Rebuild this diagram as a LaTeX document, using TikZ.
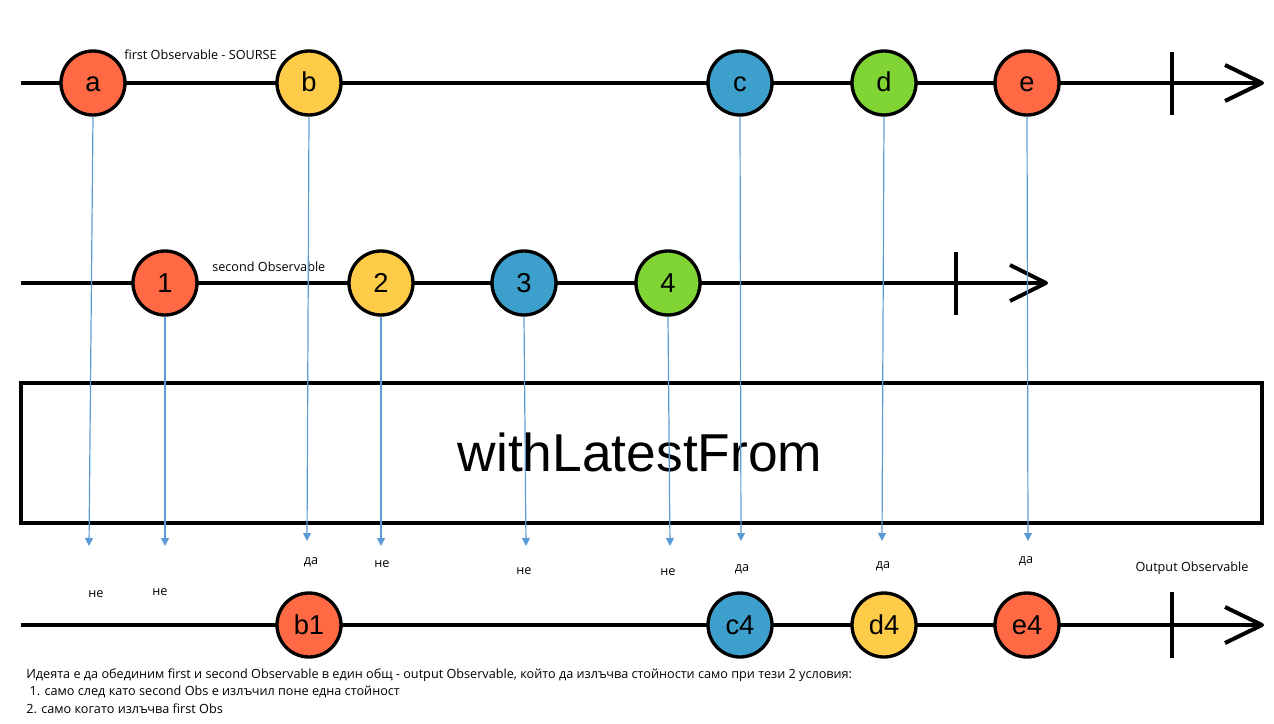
\documentclass[tikz,border=0pt]{standalone}
\usepackage{fontspec}
\setmainfont{Open Sans}
\newfontfamily\arialf{Liberation Sans}
\usetikzlibrary{arrows.meta}
\definecolor{mred}{HTML}{FF6A45}
\definecolor{myellow}{HTML}{FFCC4A}
\definecolor{mblue}{HTML}{3DA0CC}
\definecolor{mgreen}{HTML}{80D434}
\definecolor{flowblue}{HTML}{5B9BD5}
\begin{document}
\begin{tikzpicture}[x=0.75pt,y=-0.75pt,
  marble/.style={circle, draw=black, line width=2.5pt, minimum size=48pt, inner sep=0pt,
    text height=13.5pt, text depth=0pt,
    font=\arialf\fontsize{20.5}{20.5}\selectfont},
  axis/.style={line width=3pt, black},
  flow/.style={draw=flowblue, line width=0.9pt, -{Triangle[width=6pt,length=6pt]}},
  lbl/.style={font=\fontsize{9.5}{11}\selectfont, inner sep=0pt},
  opbox/.style={draw=black, line width=3pt, minimum width=930.75pt, minimum height=105pt,
    inner sep=0pt}]
\useasboundingbox (0,0) rectangle (1274,724);
% ---- axes
\coordinate (s1) at (21,83);   \coordinate (t1) at (1262,83);
\coordinate (s2) at (21,283);  \coordinate (t2) at (1046,283);
\coordinate (s3) at (21,625);  \coordinate (t3) at (1262,625);
\draw[axis] (s1) -- (t1);
\draw[axis] (s2) -- (t2);
\draw[axis] (s3) -- (t3);
% ends (ticks) and open arrow heads
\draw[axis] (1172,52) -- (1172,115);
\draw[axis] (956,252) -- (956,315);
\draw[axis] (1172,592) -- (1172,658);
\draw[axis, line join=round] (1225,65) -- (t1) -- (1225,101);
\draw[axis, line join=round] (1010,265) -- (t2) -- (1010,301);
\draw[axis, line join=round] (1225,607) -- (t3) -- (1225,643);
% ---- first observable
\node[marble, fill=mred]    (a) at (93,83)   {a};
\node[marble, fill=myellow] (b) at (309,83)  {b};
\node[marble, fill=mblue]   (c) at (740,83)  {c};
\node[marble, fill=mgreen]  (d) at (884,83)  {d};
\node[marble, fill=mred]    (e) at (1027,83) {e};
\node[lbl, anchor=west] (t1lbl) at (124,55) {first Observable - SOURSE};
% ---- second observable
\node[marble, fill=mred]    (n1) at (165,283) {1};
\node[marble, fill=myellow] (n2) at (381,283) {2};
\node[marble, fill=mblue]   (n3) at (524,283) {3};
\node[marble, fill=mgreen]  (n4) at (668,283) {4};
\node[lbl, anchor=west] (t2lbl) at (212,267) {second Observable};
% ---- operator box
\node[opbox] (box) at (641.5,453) {};
\node[font=\arialf\fontsize{40}{40}\selectfont, inner sep=0pt, anchor=base] (op) at (640,471) {withLatestFrom};
% ---- output observable
\node[marble, fill=mred]    (b1) at (309,625)  {b1};
\node[marble, fill=mblue]   (c4) at (740,625)  {c4};
\node[marble, fill=myellow] (d4) at (884,625)  {d4};
\node[marble, fill=mred]    (e4) at (1027,625) {e4};
\node[lbl] (t3lbl) at (1192,568) {Output Observable};
% ---- verdict labels
\node[lbl] (va)  at (96,594)   {не};
\node[lbl] (v1)  at (160,592)  {не};
\node[lbl] (vb)  at (311,562)  {да};
\node[lbl] (v2)  at (382,564)  {не};
\node[lbl] (v3)  at (524,571)  {не};
\node[lbl] (v4)  at (668,572)  {не};
\node[lbl] (vc)  at (742,569)  {да};
\node[lbl] (vd)  at (883,566)  {да};
\node[lbl] (ve)  at (1026,561) {да};
% ---- note
\node[lbl, anchor=west] (note1) at (26,675) {Идеята е да обединим first и second Observable в един общ - output Observable, който да излъчва стойности само при тези 2 условия:};
\node[lbl, anchor=west] (note2) at (26,692) {\ 1. само след като second Obs е излъчил поне една стойност};
\node[lbl, anchor=west] (note3) at (26,709) {2. само когато излъчва first Obs};
% ---- flow connectors
\coordinate (ea) at (89,546);
\coordinate (e1) at (165,546);
\coordinate (eb) at (307,541);
\coordinate (e2) at (381,546);
\coordinate (e3) at (526,546);
\coordinate (e4) at (670,546);
\coordinate (ec) at (741,541);
\coordinate (ed) at (882,541);
\coordinate (ee) at (1028,541);
\draw[flow] (a.south)  -- (ea);
\draw[flow] (n1.south) -- (e1);
\draw[flow] (b.south)  -- (eb);
\draw[flow] (n2.south) -- (e2);
\draw[flow] (n3.south) -- (e3);
\draw[flow] (n4.south) -- (e4);
\draw[flow] (c.south)  -- (ec);
\draw[flow] (d.south)  -- (ed);
\draw[flow] (e.south)  -- (ee);
\end{tikzpicture}
\end{document}
